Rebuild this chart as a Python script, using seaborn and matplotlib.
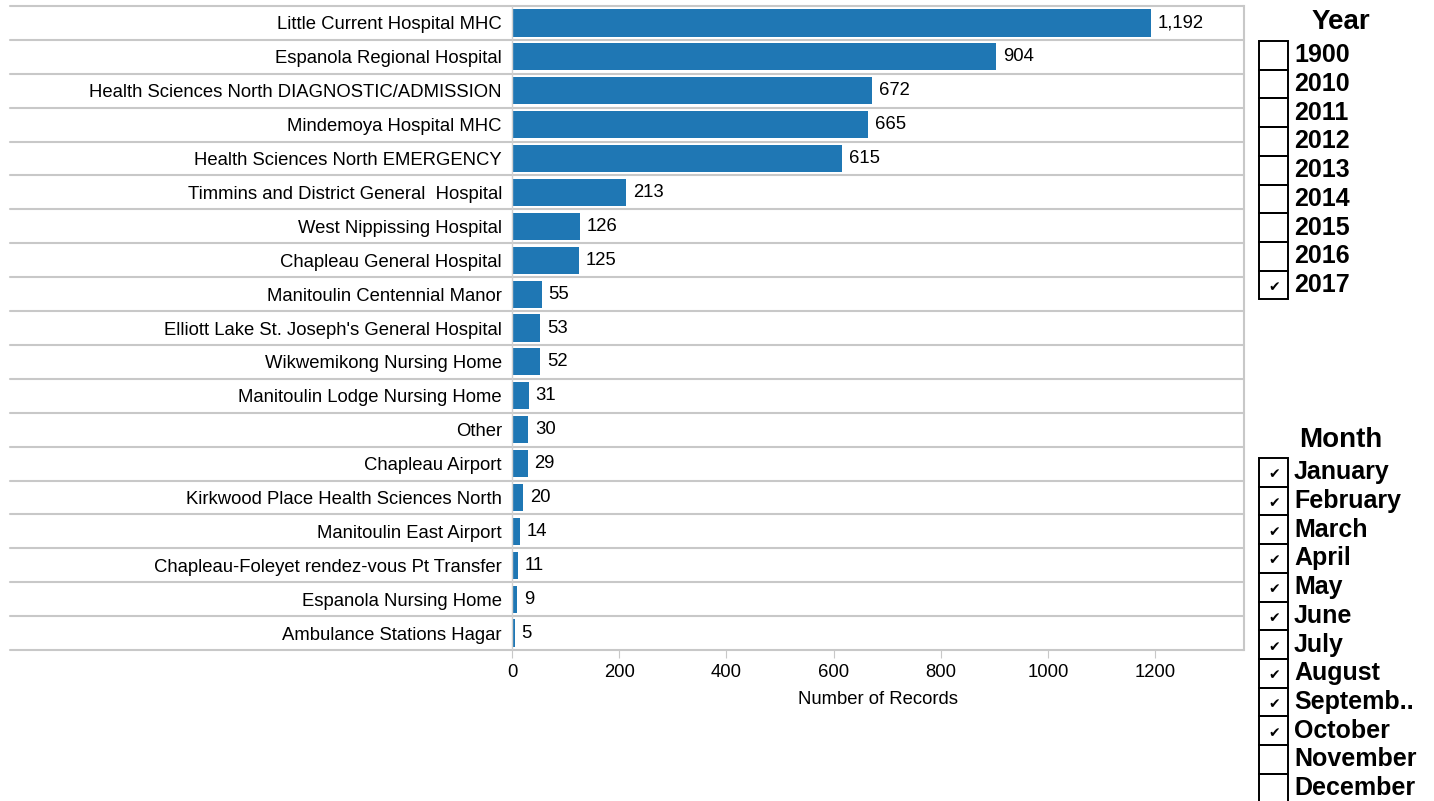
import matplotlib
matplotlib.use('Agg')
import matplotlib.pyplot as plt
import seaborn as sns
import pandas as pd
from matplotlib.patches import Rectangle

facilities = ['Little Current Hospital MHC', 'Espanola Regional Hospital',
              'Health Sciences North DIAGNOSTIC/ADMISSION', 'Mindemoya Hospital MHC',
              'Health Sciences North EMERGENCY', 'Timmins and District General  Hospital',
              'West Nippissing Hospital', 'Chapleau General Hospital',
              'Manitoulin Centennial Manor', "Elliott Lake St. Joseph's General Hospital",
              'Wikwemikong Nursing Home', 'Manitoulin Lodge Nursing Home', 'Other',
              'Chapleau Airport', 'Kirkwood Place Health Sciences North',
              'Manitoulin East Airport', 'Chapleau-Foleyet rendez-vous Pt Transfer',
              'Espanola Nursing Home', 'Ambulance Stations Hagar']
records = [1192, 904, 672, 665, 615, 213, 126, 125, 55, 53, 52, 31, 30, 29, 20, 14, 11, 9, 5]

years = ['1900', '2010', '2011', '2012', '2013', '2014', '2015', '2016', '2017']
years_checked = [False] * 8 + [True]
months = ['January', 'February', 'March', 'April', 'May', 'June', 'July', 'August',
          'Septemb..', 'October', 'November', 'December']
months_checked = [True] * 10 + [False, False]

df = pd.DataFrame({'Facility': facilities, 'Records': records})

sns.set_style('white')
plt.rcParams['font.family'] = ['Liberation Sans', 'DejaVu Sans']
plt.rcParams['text.color'] = 'black'
plt.rcParams['xtick.color'] = 'black'
plt.rcParams['ytick.color'] = 'black'
plt.rcParams['axes.labelcolor'] = 'black'

W, H = 1434, 801
fig = plt.figure(figsize=(W / 100, H / 100), dpi=100)
ax = fig.add_axes([511 / W, 1 - 650 / H, (1244 - 511) / W, (650 - 6) / H])

sns.barplot(data=df, x='Records', y='Facility', orient='h', color='#1f77b4',
            width=0.8, ax=ax, saturation=1, linewidth=0)
ax.set_xlim(-2, 1366)
ax.set_ylim(len(facilities) - 0.5, -0.5)

fs = 13.3
ax.bar_label(ax.containers[0], labels=[f'{v:,}' for v in records], padding=5,
             fontsize=fs, color='black')

grid_c = '#c8c8c8'
left_frac = (10 - 511) / (1244 - 511)
for i in range(len(facilities) + 1):
    ax.axhline(i - 0.5, xmin=left_frac, xmax=1, color=grid_c, lw=1.5, clip_on=False)
ax.axvline(0, color='#d0d0d0', lw=1)

for side in ['top', 'bottom', 'left']:
    ax.spines[side].set_visible(False)
ax.spines['right'].set_color(grid_c)
ax.spines['right'].set_linewidth(1.5)

ax.set_xticks([0, 200, 400, 600, 800, 1000, 1200])
ax.tick_params(axis='x', length=6, color=grid_c, labelcolor='black', labelsize=fs,
               pad=4, bottom=True)
ax.tick_params(axis='y', length=0, labelsize=fs, labelcolor='black', pad=6.5)
ax.set_xlabel('Number of Records', fontsize=fs, labelpad=7)
ax.set_ylabel('')

# filter panels on the right
def fx(px):
    return px / W

def fy(py):
    return 1 - py / H

box_l, box_w, step = 1259, 29, 28.7

def draw_panel(title, title_y, first_top, items, checked):
    fig.text(fx(1341), fy(title_y), title, fontsize=20, fontweight='bold',
             ha='center', va='center')
    for k, (name, on) in enumerate(zip(items, checked)):
        top = first_top + k * step
        fig.patches.append(Rectangle((fx(box_l), fy(top + step)), box_w / W, step / H,
                                     transform=fig.transFigure, fill=False,
                                     edgecolor='black', lw=1.4))
        if on:
            fig.text(fx(box_l + 15), fy(top + step / 2 + 2), '\u2714', fontsize=10,
                     ha='center', va='center', family='DejaVu Sans')
        fig.text(fx(1294), fy(top + step / 2), name, fontsize=18, fontweight='bold',
                 ha='left', va='center')

draw_panel('Year', 22, 41, years, years_checked)
draw_panel('Month', 440, 458, months, months_checked)

fig.savefig('out.png', dpi=100)
